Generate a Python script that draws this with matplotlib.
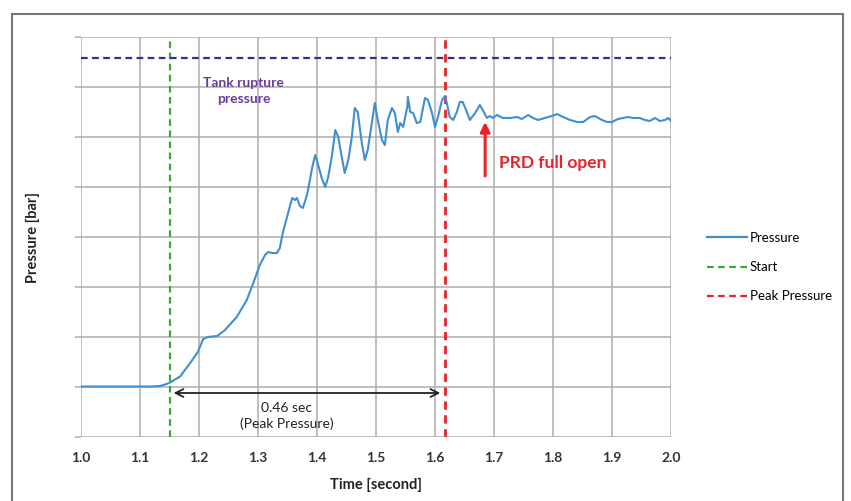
import matplotlib
matplotlib.use("Agg")
import matplotlib.pyplot as plt
from matplotlib.patches import Rectangle
from matplotlib.lines import Line2D

# ---- data ----
time = [1.000, 1.066, 1.117, 1.134, 1.145, 1.151, 1.168, 1.185, 1.198, 1.207,
        1.215, 1.231, 1.244, 1.264, 1.281, 1.292, 1.303, 1.312, 1.317, 1.324,
        1.332, 1.337, 1.342, 1.351, 1.358, 1.363, 1.366, 1.371, 1.376, 1.383,
        1.388, 1.392, 1.397, 1.402, 1.408, 1.414, 1.419, 1.425, 1.431, 1.436,
        1.442, 1.447, 1.453, 1.459, 1.464, 1.469, 1.476, 1.481, 1.486, 1.498,
        1.503, 1.510, 1.515, 1.520, 1.527, 1.532, 1.537, 1.541, 1.546, 1.553,
        1.554, 1.558, 1.563, 1.569, 1.575, 1.583, 1.588, 1.595, 1.600, 1.605,
        1.612, 1.617, 1.620, 1.625, 1.631, 1.637, 1.642, 1.647, 1.654, 1.659,
        1.668, 1.676, 1.681, 1.688, 1.693, 1.698, 1.705, 1.715, 1.727, 1.739,
        1.747, 1.758, 1.766, 1.775, 1.786, 1.798, 1.807, 1.817, 1.829, 1.841,
        1.851, 1.863, 1.871, 1.883, 1.892, 1.900, 1.910, 1.919, 1.927, 1.936,
        1.947, 1.956, 1.964, 1.973, 1.981, 1.990, 1.995, 2.000]
pressure = [1.01, 1.01, 1.01, 1.02, 1.06, 1.09, 1.21, 1.48, 1.70, 1.96,
            2.00, 2.02, 2.14, 2.40, 2.74, 3.08, 3.44, 3.64, 3.70, 3.68,
            3.68, 3.78, 4.08, 4.48, 4.78, 4.74, 4.78, 4.62, 4.58, 4.84,
            5.14, 5.40, 5.64, 5.44, 5.18, 5.00, 5.20, 5.60, 6.14, 6.00,
            5.60, 5.28, 5.54, 6.00, 6.58, 6.50, 5.88, 5.54, 5.74, 6.68,
            6.34, 5.94, 5.84, 6.34, 6.58, 6.48, 6.10, 6.28, 6.20, 6.60,
            6.80, 6.50, 6.48, 6.28, 6.30, 6.78, 6.74, 6.48, 6.20, 6.40,
            6.74, 6.82, 6.68, 6.40, 6.34, 6.50, 6.70, 6.70, 6.50, 6.34,
            6.48, 6.64, 6.54, 6.38, 6.42, 6.38, 6.44, 6.38, 6.38, 6.40,
            6.36, 6.44, 6.38, 6.34, 6.38, 6.42, 6.46, 6.40, 6.34, 6.30,
            6.30, 6.40, 6.42, 6.34, 6.30, 6.30, 6.36, 6.38, 6.40, 6.38,
            6.38, 6.34, 6.32, 6.38, 6.32, 6.34, 6.38, 6.32]
start_time = 1.151
peak_time = 1.617
rupture_pressure = 7.58
prd_open_time = 1.685
x_ticks = [1.0, 1.1, 1.2, 1.3, 1.4, 1.5, 1.6, 1.7, 1.8, 1.9, 2.0]
x_tick_labels = ["1.0", "1.1", "1.2", "1.3", "1.4", "1.5", "1.6", "1.7", "1.8", "1.9", "2.0"]
y_grid = [0, 1, 2, 3, 4, 5, 6, 7, 8]

plt.rcParams['font.family'] = ['Lato', 'DejaVu Sans']

fig = plt.figure(figsize=(8.51, 5.01), dpi=100)
ax = fig.add_axes([81/851, 64/501, 590/851, 400/501])

blue = "#3f8fd2"
green = "#3aa83a"
red = "#e8232b"
purple = "#3b2d86"

ax.plot(time, pressure, color=blue, lw=1.5, label="Pressure", zorder=4)
ax.axvline(start_time, color=green, lw=1.6, ls=(0, (3, 2)), label="Start", zorder=3)
ax.axvline(peak_time, color=red, lw=2.0, ls=(0, (3, 2)), label="Peak Pressure", zorder=3)
ax.axhline(rupture_pressure, color=purple, lw=1.6, ls=(0, (3, 2)), zorder=3)

ax.set_xlim(1.0, 2.0)
ax.set_ylim(0, 8)
ax.set_xticks(x_ticks)
ax.set_xticklabels(x_tick_labels)
ax.set_yticks(y_grid)
ax.set_yticklabels([])
ax.grid(True, color="#adadad", lw=1.1)
for s in ax.spines.values():
    s.set_visible(False)
ax.tick_params(axis='x', length=0, pad=11, labelsize=10, labelcolor="#333333")
ax.tick_params(axis='y', length=4, color="#adadad", width=1.1)
for lab in ax.get_xticklabels():
    lab.set_fontweight("bold")

ax.set_xlabel("Time [second]", fontsize=10.5, fontweight="bold", labelpad=10, color="#222222")
fig.text(33/851, 1 - 237/501, "Pressure [bar]", rotation=90, fontsize=10.5,
         fontweight="bold", ha="center", va="center", color="#222222")

# annotations
ax.text(1.276, 6.92, "Tank rupture\npressure", color="#6a3a9e", fontsize=10,
        fontweight="bold", ha="center", va="center", linespacing=1.45)
ax.annotate("", xy=(prd_open_time, 6.30), xytext=(prd_open_time, 5.22),
            arrowprops=dict(arrowstyle="-|>", color=red, lw=2.2, mutation_scale=14,
                            shrinkA=0, shrinkB=0), zorder=5)
ax.text(1.7085, 5.48, "PRD full open", color=red, fontsize=12.5, fontweight="bold",
        ha="left", va="center")
ax.annotate("", xy=(start_time + 0.006, 0.88), xytext=(peak_time - 0.008, 0.88),
            arrowprops=dict(arrowstyle="<->", color="#222222", lw=1.3, mutation_scale=14,
                            shrinkA=0, shrinkB=0), zorder=5)
ax.text(1.349, 0.42, "0.46 sec\n(Peak Pressure)", color="#222222", fontsize=10,
        ha="center", va="center", linespacing=1.3)

# legend
handles = [Line2D([], [], color=blue, lw=1.6),
           Line2D([], [], color=green, lw=1.6, ls=(0, (3, 2))),
           Line2D([], [], color=red, lw=1.6, ls=(0, (3, 2)))]
fig.legend(handles, ["Pressure", "Start", "Peak Pressure"], loc="upper left",
           bbox_to_anchor=(707/851, 1 - 232/501), frameon=False, fontsize=9.5,
           handlelength=3.0, handletextpad=0.25, labelspacing=1.3,
           borderaxespad=0, borderpad=0)

# outer frame
fig.patches.append(Rectangle((12/851, -0.02), 831/851, 1.006 - 7/501,
                             transform=fig.transFigure, fill=False,
                             edgecolor="#777777", lw=1.5))

fig.savefig("out.png", dpi=100)
